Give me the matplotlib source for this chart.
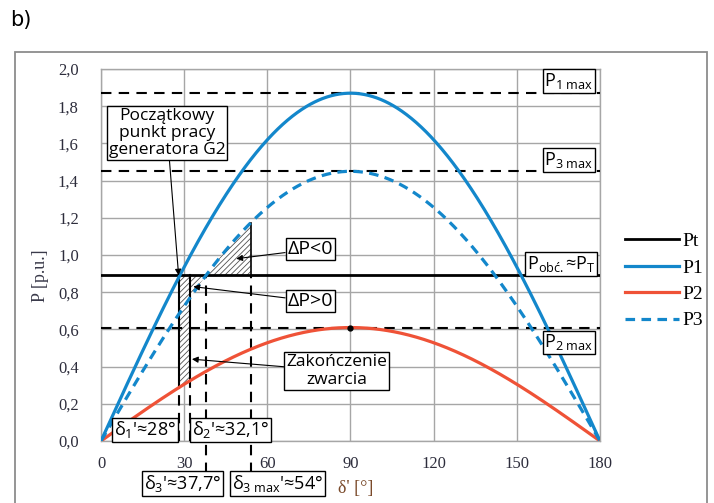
import numpy as np
import matplotlib
matplotlib.use("Agg")
import matplotlib.pyplot as plt
from matplotlib.patches import Rectangle

plt.rcParams['mathtext.fontset'] = 'custom'
plt.rcParams['mathtext.rm'] = 'Open Sans'
plt.rcParams['mathtext.it'] = 'Open Sans:italic'
plt.rcParams['hatch.linewidth'] = 0.6

# amplitudes of the power-angle curves [p.u.]
P1_max = 1.87
P2_max = 0.61
P3_max = 1.45
Pt = 0.89
# characteristic angles [deg]
d1 = 28.0
d2 = 32.1
d3 = 37.7
d3_max = 54.0

xticks = [0, 30, 60, 90, 120, 150, 180]
yticks = [0.0, 0.2, 0.4, 0.6, 0.8, 1.0, 1.2, 1.4, 1.6, 1.8, 2.0]
ytick_labels = ["0,0", "0,2", "0,4", "0,6", "0,8", "1,0", "1,2", "1,4", "1,6", "1,8", "2,0"]

blue = "#1387cb"
red = "#ef5237"
sans = "Open Sans"
serif = "Liberation Serif"

delta = np.linspace(0, 180, 721)
rad = np.radians(delta)
p1 = P1_max * np.sin(rad)
p2 = P2_max * np.sin(rad)
p3 = P3_max * np.sin(rad)

fig = plt.figure(figsize=(7.14, 5.03), dpi=100)
ax = fig.add_axes([101 / 714, 1 - 441 / 503, 499 / 714, 372 / 503])

# outer frame and panel letter
fig.patches.append(Rectangle((15 / 714, -0.05), 692 / 714, 0.05 + 451 / 503,
                             transform=fig.transFigure, fill=False,
                             edgecolor="#8c8c8c", linewidth=1.3))
fig.text(10 / 714, 1 - 20 / 503, "b)", fontsize=15, family="DejaVu Sans",
         va="center", ha="left")

ax.set_xlim(0, 180)
ax.set_ylim(0, 2.0)
ax.set_xticks(xticks)
ax.set_yticks(yticks)
ax.set_yticklabels(ytick_labels)
ax.grid(True, color="#a6a6a6", linewidth=1.0)
ax.set_axisbelow(True)
for s in ax.spines.values():
    s.set_color("#a6a6a6")
    s.set_linewidth(1.0)
ax.tick_params(length=0, labelsize=12, colors="#2d2d3c")
ax.tick_params(axis="x", pad=11)
ax.tick_params(axis="y", pad=16)
for lab in ax.get_xticklabels() + ax.get_yticklabels():
    lab.set_family(serif)

# hatched regions
hatch_kw = dict(facecolor="white", edgecolor="#505050", hatch="//////", linewidth=0, zorder=2)
m = (delta >= d1) & (delta <= d2)
ax.fill_between(delta[m], p2[m], Pt, **hatch_kw)
m = (delta >= d2) & (delta <= d3)
ax.fill_between(delta[m], np.minimum(p3[m], Pt), Pt, **hatch_kw)
m = (delta >= d3) & (delta <= d3_max)
ax.fill_between(delta[m], Pt, p3[m], **hatch_kw)

# max levels
dash = dict(color="black", linewidth=1.5, linestyle=(0, (5, 3.5)), zorder=3)
for lvl in [P1_max, P3_max, P2_max]:
    ax.axhline(lvl, **dash)

# vertical markers
ax.plot([d1, d1], [P2_max * np.sin(np.radians(d1)), Pt], color="black", lw=1.5, zorder=4)
ax.plot([d2, d2], [P2_max * np.sin(np.radians(d2)), Pt], color="black", lw=1.5, zorder=4)
ax.plot([d1, d1], [0, P2_max * np.sin(np.radians(d1))], clip_on=False, **dash)
ax.plot([d2, d2], [0, P2_max * np.sin(np.radians(d2))], clip_on=False, **dash)
ax.plot([d3_max, d3_max], [Pt, P3_max * np.sin(np.radians(d3_max))], color="black", lw=1.2, zorder=4)
ax.plot([d3, d3], [-0.17, Pt], clip_on=False, **dash)
ax.plot([d3_max, d3_max], [-0.17, Pt], clip_on=False, **dash)

# curves
ax.plot([0, 180], [Pt, Pt], color="black", lw=2.0, label="Pt", zorder=5)
ax.plot(delta, p1, color=blue, lw=2.3, label="P1", zorder=5)
ax.plot(delta, p2, color=red, lw=2.3, label="P2", zorder=5)
ax.plot(delta, p3, color=blue, lw=2.3, linestyle=(0, (3, 2)), label="P3", zorder=5)
ax.plot([90], [P2_max], "o", color="black", ms=3.5, zorder=6)

leg = ax.legend(loc="center left", bbox_to_anchor=(1.015, 0.43), frameon=False,
                prop={"family": serif, "size": 14}, handlelength=2.8,
                handletextpad=0.15, labelspacing=0.45)

box = dict(boxstyle="square,pad=0.1", facecolor="white", edgecolor="black", linewidth=1.0)
tkw = dict(family=sans, fontsize=13, ha="center", va="center", bbox=box, zorder=8)

ax.text(168.8, 1.935, "P$_{\\mathrm{1\\ max}}$", **tkw)
ax.text(168.8, 1.51, "P$_{\\mathrm{3\\ max}}$", **tkw)
ax.text(166.0, 0.95, "P$_{\\mathrm{obć.}}$≈P$_{\\mathrm{T}}$", **tkw)
ax.text(168.8, 0.53, "P$_{\\mathrm{2\\ max}}$", **tkw)
ax.text(15.9, 0.06, "δ$_{1}$'≈28°", **tkw)
ax.text(46.6, 0.06, "δ$_{2}$'≈32,1°", **tkw)
ax.text(29.3, -0.23, "δ$_{3}$'≈37,7°", clip_on=False, **tkw)
ax.text(63.6, -0.23, "δ$_{\\mathrm{3\\ max}}$'≈54°", clip_on=False, **tkw)

arrow = dict(arrowstyle="-|>", color="black", lw=0.8, mutation_scale=9, shrinkA=0, shrinkB=0)
akw = dict(family=sans, fontsize=12.5, ha="center", va="center", bbox=box, zorder=8,
           linespacing=1.1)
ax.annotate("Początkowy\npunkt pracy\ngeneratora G2", xy=(d1, Pt), xytext=(23.9, 1.656),
            arrowprops=arrow, **akw)
ax.annotate("ΔP<0", xy=(48.8, 0.98), xytext=(75.5, 1.03), arrowprops=arrow,
            **dict(akw, fontsize=14))
ax.annotate("ΔP>0", xy=(33.3, 0.83), xytext=(75.5, 0.753), arrowprops=arrow,
            **dict(akw, fontsize=14))
ax.annotate("Zakończenie\nzwarcia", xy=(32.8, 0.44), xytext=(84.9, 0.376),
            arrowprops=arrow, **dict(akw, linespacing=1.2))

ax.text(91.8, -0.255, "δ' [°]", family=serif, fontsize=13, color="#7a4a2a",
        ha="center", va="center", clip_on=False)
ax.text(-22, 0.89, "P [p.u.]", family=serif, fontsize=13, color="#3a3a4a",
        ha="center", va="center", rotation=90, clip_on=False)

fig.savefig("out.png", dpi=100)
